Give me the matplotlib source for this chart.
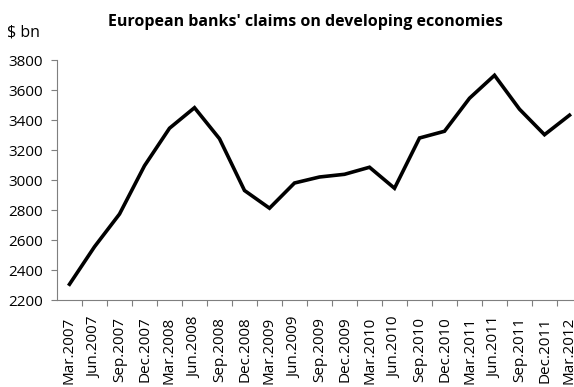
import matplotlib
matplotlib.use("Agg")
import matplotlib.pyplot as plt

# quarterly claims, $ bn
quarters = ["Mar.2007", "Jun.2007", "Sep.2007", "Dec.2007", "Mar.2008", "Jun.2008",
            "Sep.2008", "Dec.2008", "Mar.2009", "Jun.2009", "Sep.2009", "Dec.2009",
            "Mar.2010", "Jun.2010", "Sep.2010", "Dec.2010", "Mar.2011", "Jun.2011",
            "Sep.2011", "Dec.2011", "Mar.2012"]
claims = [2305, 2555, 2773, 3095, 3345, 3482, 3275, 2930, 2812, 2980, 3020, 3038,
          3085, 2945, 3280, 3325, 3545, 3698, 3472, 3302, 3432]
y_ticks = [2200, 2400, 2600, 2800, 3000, 3200, 3400, 3600, 3800]

plt.rcParams["font.family"] = ["Open Sans", "DejaVu Sans"]
AX_CLR = "#7f7f7f"

fig = plt.figure(figsize=(5.74, 3.87), dpi=100)
W, H = 574, 387
# plot area in pixels: x 57..582 (runs past the right edge), y 60..300
ax = fig.add_axes([57 / W, (H - 300) / H, 525 / W, 240 / H])

x = list(range(len(quarters)))
ax.plot(x, claims, color="black", lw=2.6, solid_joinstyle="miter")

ax.set_xlim(-0.5, len(quarters) - 0.5)
ax.set_ylim(2200, 3800)
ax.set_yticks(y_ticks)
ax.set_yticklabels([str(v) for v in y_ticks], fontsize=11)

# tick marks between categories, labels centred on categories
ax.set_xticks([i + 0.5 for i in x])
ax.set_xticklabels([])
ax.set_xticks(x, minor=True)
ax.set_xticklabels(quarters, minor=True, rotation=90, fontsize=11)
ax.tick_params(axis="x", which="minor", length=0, pad=12)
ax.tick_params(axis="x", which="major", length=4, width=0.8, color=AX_CLR, direction="out")
ax.tick_params(axis="y", length=4, width=0.8, color=AX_CLR, direction="out", pad=6)

for sp in ("top", "right"):
    ax.spines[sp].set_visible(False)
for sp in ("left", "bottom"):
    ax.spines[sp].set_color(AX_CLR)
    ax.spines[sp].set_linewidth(0.8)

fig.text(305 / W, 1 - 22 / H, "European banks' claims on developing economies",
         ha="center", va="center", fontsize=11.5, fontweight="bold")
fig.text(7 / W, 1 - 32 / H, "$ bn", ha="left", va="center", fontsize=11.5)

fig.savefig("out.png", dpi=100)
